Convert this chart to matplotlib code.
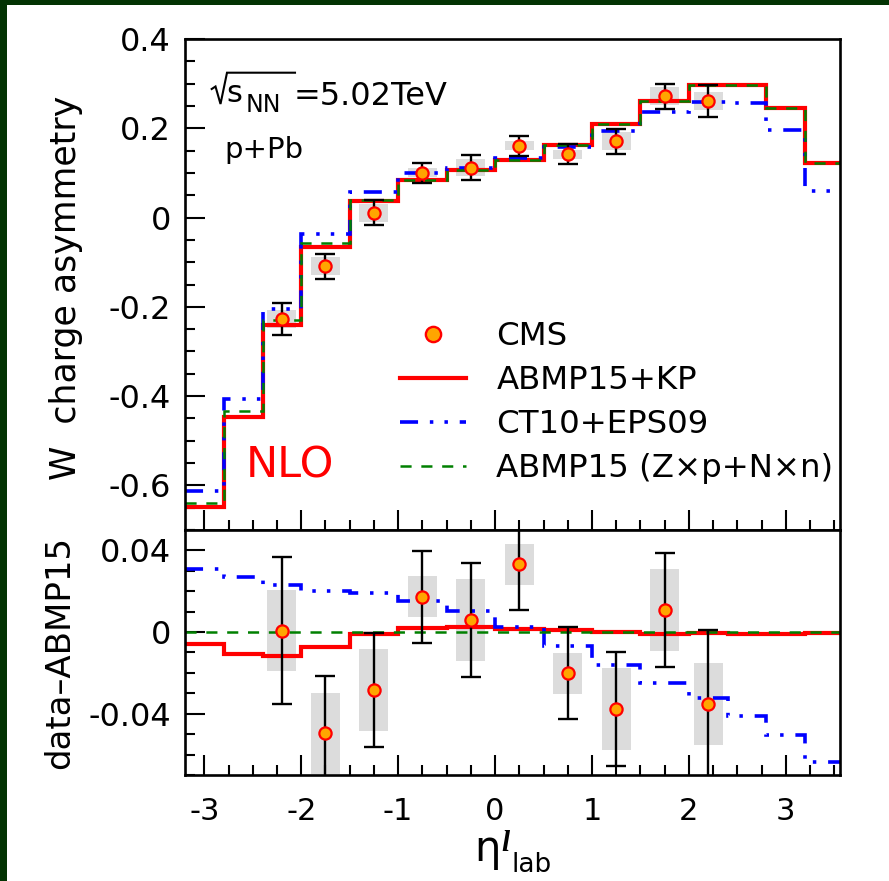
import matplotlib
matplotlib.use("Agg")
import matplotlib.pyplot as plt
from matplotlib.lines import Line2D
from matplotlib.patches import Rectangle
from matplotlib.ticker import MultipleLocator, FixedLocator, FixedFormatter
import numpy as np

plt.rcParams["font.family"] = ["DejaVu Sans"]
plt.rcParams["lines.scale_dashes"] = False

# ---------------- data ----------------
# bin edges (eta_lab) of the theory histograms
edges = [-3.2, -2.8, -2.4, -2.0, -1.5, -1.0, -0.5, 0.0, 0.5, 1.0, 1.5, 2.0, 2.4, 2.8, 3.2, 3.56]

# W charge asymmetry, theory
abmp15_kp = [-0.648, -0.446, -0.241, -0.065, 0.038, 0.084, 0.106, 0.129, 0.162, 0.209,
             0.261, 0.297, 0.297, 0.245, 0.123]
ct10_eps09 = [-0.612, -0.407, -0.206, -0.037, 0.058, 0.100, 0.112, 0.133, 0.157, 0.194,
              0.237, 0.259, 0.256, 0.196, 0.059]
abmp15_zn = [-0.640, -0.433, -0.229, -0.056, 0.039, 0.084, 0.106, 0.129, 0.162, 0.209,
             0.261, 0.297, 0.297, 0.245, 0.123]

# differences with respect to ABMP15 (Z x p + N x n)
diff_kp = [-0.0058, -0.0107, -0.0115, -0.0071, -0.0011, 0.0019, 0.0025, 0.0014, 0.0010,
           0.0002, -0.0008, -0.0006, -0.0008, -0.0008, -0.0006]
diff_ct10 = [0.0309, 0.0272, 0.0231, 0.0203, 0.0190, 0.0152, 0.0105, 0.0023, -0.0067,
             -0.0161, -0.0248, -0.0324, -0.0411, -0.0504, -0.0638]
diff_zn = [0.0] * 15

# CMS data
eta = [-2.2, -1.75, -1.25, -0.75, -0.25, 0.25, 0.75, 1.25, 1.75, 2.2]
asym = [-0.228, -0.109, 0.011, 0.100, 0.112, 0.161, 0.1415, 0.171, 0.272, 0.261]
asym_diff = [0.0007, -0.0496, -0.0284, 0.0173, 0.0059, 0.0332, -0.0202, -0.0378, 0.0108, -0.0352]
stat = [0.036, 0.028, 0.028, 0.0225, 0.028, 0.0225, 0.0225, 0.028, 0.028, 0.036]
syst = [0.020, 0.020, 0.020, 0.010, 0.020, 0.010, 0.010, 0.020, 0.020, 0.020]

x_ticks = [-3, -2, -1, 0, 1, 2, 3]
x_ticklabels = ["-3", "-2", "-1", "0", "1", "2", "3"]
top_ticks = [0.4, 0.2, 0.0, -0.2, -0.4, -0.6]
top_ticklabels = ["0.4", "0.2", "0", "-0.2", "-0.4", "-0.6"]
bot_ticks = [0.04, 0.0, -0.04]
bot_ticklabels = ["0.04", "0", "-0.04"]

# ---------------- styles ----------------
RED, BLUE, GREEN = "#ff0000", "#0000ff", "#008000"
ORANGE, GREY = "#ffa500", "#dcdcdc"
DASHDOT3 = (0, (13, 8.5, 2.5, 8, 2.5, 8.5))
DASHED = (0, (8, 7))

W, H = 889, 881
fig = plt.figure(figsize=(W / 100, H / 100), dpi=100)
fig.patch.set_facecolor("white")


def fx(px):
    return px / W


def fy(py):
    return 1 - py / H


# dark frame strips on top and left
fig.add_artist(Rectangle((0, fy(5)), 1, 5 / H, transform=fig.transFigure,
                         color="#033303", lw=0, zorder=10))
fig.add_artist(Rectangle((0, 0), 7 / W, 1, transform=fig.transFigure,
                         color="#033303", lw=0, zorder=10))

ax1 = fig.add_axes([fx(185), fy(530), (840 - 185) / W, (530 - 39) / H])
ax2 = fig.add_axes([fx(185), fy(775), (840 - 185) / W, (775 - 530) / H])


def draw_panel(ax, yvals, theories):
    yv = np.asarray(yvals)
    sy = np.asarray(syst)
    ax.bar(eta, 2 * sy, bottom=yv - sy, width=0.3, color=GREY, lw=0, zorder=1)
    (kp, ct, zn) = theories
    ax.stairs(kp, edges, baseline=None, color=RED, lw=3.0, zorder=2)
    ax.stairs(ct, edges, baseline=None, color=BLUE, lw=2.6, linestyle=DASHDOT3, zorder=2.1)
    ax.stairs(zn, edges, baseline=None, color=GREEN, lw=1.8, linestyle=DASHED, zorder=2.2)
    ax.errorbar(eta, yv, yerr=stat, fmt="none", ecolor="black", elinewidth=1.7,
                capsize=7.4, capthick=1.7, zorder=4)
    ax.plot(eta, yv, "o", ms=8.8, mfc=ORANGE, mec=RED, mew=1.6, zorder=5)
    ax.set_xlim(-3.2, 3.56)
    ax.xaxis.set_major_locator(FixedLocator(x_ticks))
    ax.xaxis.set_minor_locator(MultipleLocator(0.25))
    ax.tick_params(which="both", direction="in", top=False, right=False, width=1.5)
    ax.tick_params(which="major", length=14.4)
    ax.tick_params(which="minor", length=7.2)
    ax.tick_params(axis="y", labelsize=23, pad=10)
    ax.tick_params(axis="x", labelsize=22, pad=16)
    for s in ax.spines.values():
        s.set_linewidth(1.9)


draw_panel(ax1, asym, (abmp15_kp, ct10_eps09, abmp15_zn))
draw_panel(ax2, asym_diff, (diff_kp, diff_ct10, diff_zn))

ax1.set_ylim(-0.70, 0.40)
ax1.yaxis.set_major_locator(FixedLocator(top_ticks))
ax1.yaxis.set_major_formatter(FixedFormatter(top_ticklabels))
ax1.yaxis.set_minor_locator(MultipleLocator(0.05))
ax1.tick_params(axis="x", labelbottom=False)

ax2.set_ylim(-0.07, 0.05)
ax2.yaxis.set_major_locator(FixedLocator(bot_ticks))
ax2.yaxis.set_major_formatter(FixedFormatter(bot_ticklabels))
ax2.yaxis.set_minor_locator(MultipleLocator(0.01))
ax2.xaxis.set_major_formatter(FixedFormatter(x_ticklabels))

# legend
handles = [
    Line2D([], [], ls="none", marker="o", ms=11, mfc=ORANGE, mec=RED, mew=1.7),
    Line2D([], [], color=RED, lw=3.0),
    Line2D([], [], color=BLUE, lw=2.6, ls=DASHDOT3),
    Line2D([], [], color=GREEN, lw=1.8, ls=DASHED),
]
labels = ["CMS", "ABMP15+KP", "CT10+EPS09", "ABMP15 (Z\u00d7p+N\u00d7n)"]
ax1.legend(handles, labels, loc="upper left", bbox_to_anchor=(fx(400), fy(321)),
           bbox_transform=fig.transFigure, frameon=False, fontsize=23.3,
           handlelength=2.03, handletextpad=0.95, labelspacing=0.40,
           borderpad=0, borderaxespad=0)

# sqrt(s_NN) annotation
fig.add_artist(Line2D([fx(211.7), fx(215.5), fx(220.5), fx(227), fx(295)],
                      [fy(89), fy(86.5), fy(104), fy(72.7), fy(72.7)],
                      transform=fig.transFigure, color="black", lw=1.5,
                      solid_joinstyle="miter"))
fig.text(fx(226), fy(102), "s", fontsize=22, ha="left", va="baseline")
fig.text(fx(246), fy(112), "NN", fontsize=17, ha="left", va="baseline")
fig.text(fx(294), fy(105), "=5.02TeV", fontsize=23, ha="left", va="baseline")
fig.text(fx(224), fy(158), "p+Pb", fontsize=21, ha="left", va="baseline")
fig.text(fx(246), fy(477), "NLO", fontsize=31, color=RED, ha="left", va="baseline")

# axis titles
fig.text(fx(66), fy(288), "W  charge asymmetry", fontsize=25, rotation=90,
         ha="center", va="center")
fig.text(fx(59.5), fy(652), "data\u2013ABMP15", fontsize=24.5, rotation=90,
         ha="center", va="center")
fig.text(fx(474), fy(861), "\u03b7", fontsize=30, ha="left", va="baseline")
fig.text(fx(501), fy(851), "l", fontsize=21, ha="left", va="baseline",
         family="Liberation Serif", style="italic", weight="bold")
fig.text(fx(511), fy(872), "lab", fontsize=19, ha="left", va="baseline")

fig.savefig("out.png", dpi=100)
